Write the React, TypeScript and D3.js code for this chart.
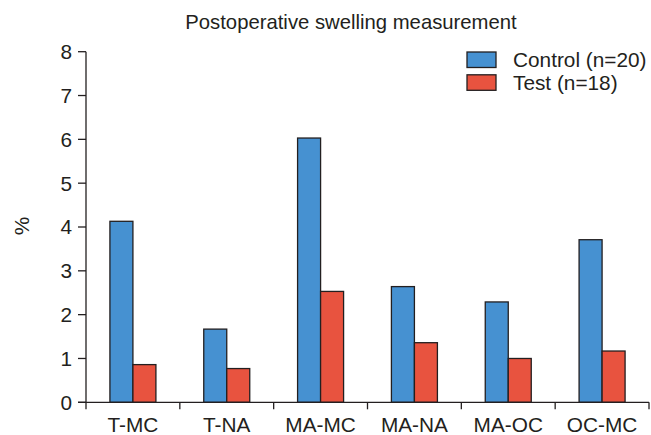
import React, { useEffect, useRef } from 'react'
import * as d3 from 'd3'

const categories = ['T-MC', 'T-NA', 'MA-MC', 'MA-NA', 'MA-OC', 'OC-MC']
const seriesNames = ['Control (n=20)', 'Test (n=18)']
const controlValues = [4.13, 1.67, 6.03, 2.64, 2.29, 3.71]
const testValues = [0.86, 0.77, 2.53, 1.36, 1.0, 1.17]
const yTicks = [0, 1, 2, 3, 4, 5, 6, 7, 8]
const colors = ['#4691d1', '#e8533f']

const ink = '#231f20'
const font = '"Liberation Sans", Arial, Helvetica, sans-serif'
const fs = 20.8

const App: React.FC = () => {
  const ref = useRef<SVGSVGElement>(null)

  useEffect(() => {
    document.body.style.margin = '0'
    if (!ref.current) return
    const svg = d3.select(ref.current)
    svg.selectAll('*').remove()

    const left = 86
    const right = 649
    const top = 51.7
    const bottom = 402.3

    const x0 = d3.scaleBand<string>().domain(categories).range([left, right]).padding(0)
    const x1 = d3
      .scaleBand<string>()
      .domain(seriesNames)
      .range([0, x0.bandwidth()])
      .paddingInner(0)
      .paddingOuter(1.04)
    const y = d3.scaleLinear().domain([0, 8]).range([bottom, top])

    // title
    svg
      .append('text')
      .attr('x', 351)
      .attr('y', 29)
      .attr('text-anchor', 'middle')
      .attr('font-size', 20.3)
      .attr('font-family', font)
      .attr('fill', ink)
      .text('Postoperative swelling measurement')

    // bars
    const data = categories.map((c, i) => ({ cat: c, vals: [controlValues[i], testValues[i]] }))
    const groups = svg
      .append('g')
      .selectAll('g')
      .data(data)
      .enter()
      .append('g')
      .attr('transform', d => `translate(${x0(d.cat)},0)`)

    groups
      .selectAll('rect')
      .data(d => d.vals.map((v, j) => ({ name: seriesNames[j], v, j })))
      .enter()
      .append('rect')
      .attr('x', d => x1(d.name)!)
      .attr('y', d => y(d.v))
      .attr('width', x1.bandwidth())
      .attr('height', d => y(0) - y(d.v))
      .attr('fill', d => colors[d.j])
      .attr('stroke', ink)
      .attr('stroke-width', 1.3)

    // y axis
    const yAxis = svg.append('g')
    yAxis
      .append('line')
      .attr('x1', left)
      .attr('x2', left)
      .attr('y1', top)
      .attr('y2', bottom + 7)
      .attr('stroke', ink)
      .attr('stroke-width', 1.3)
    yTicks.forEach(t => {
      yAxis
        .append('line')
        .attr('x1', left - 8)
        .attr('x2', left)
        .attr('y1', y(t))
        .attr('y2', y(t))
        .attr('stroke', ink)
        .attr('stroke-width', 1.3)
      yAxis
        .append('text')
        .attr('x', 72)
        .attr('y', y(t))
        .attr('dy', '0.36em')
        .attr('text-anchor', 'end')
        .attr('font-size', fs)
        .attr('font-family', font)
        .attr('fill', ink)
        .text(t)
    })

    svg
      .append('text')
      .attr('transform', 'translate(29,226) rotate(-90)')
      .attr('text-anchor', 'middle')
      .attr('font-size', fs)
      .attr('font-family', font)
      .attr('fill', ink)
      .text('%')

    // x axis
    const xAxis = svg.append('g')
    xAxis
      .append('line')
      .attr('x1', left - 8)
      .attr('x2', right)
      .attr('y1', bottom)
      .attr('y2', bottom)
      .attr('stroke', ink)
      .attr('stroke-width', 1.3)
    categories.forEach(c => {
      const edge = x0(c)! + x0.bandwidth()
      xAxis
        .append('line')
        .attr('x1', edge)
        .attr('x2', edge)
        .attr('y1', bottom)
        .attr('y2', bottom + 7)
        .attr('stroke', ink)
        .attr('stroke-width', 1.3)
      xAxis
        .append('text')
        .attr('x', x0(c)! + x0.bandwidth() / 2)
        .attr('y', 432)
        .attr('text-anchor', 'middle')
        .attr('font-size', fs)
        .attr('font-family', font)
        .attr('fill', ink)
        .text(c)
    })

    // legend
    const legend = svg.append('g')
    seriesNames.forEach((name, i) => {
      const ly = 52 + i * 22.8
      legend
        .append('rect')
        .attr('x', 467)
        .attr('y', ly)
        .attr('width', 29)
        .attr('height', 15.5)
        .attr('fill', colors[i])
        .attr('stroke', ink)
        .attr('stroke-width', 1.3)
      legend
        .append('text')
        .attr('x', 513)
        .attr('y', ly + 15.3)
        .attr('font-size', fs)
        .attr('font-family', font)
        .attr('fill', ink)
        .text(name)
    })
  }, [])

  return <svg ref={ref} width={651} height={435} style={{ display: 'block', background: '#fff' }} />
}

export default App
